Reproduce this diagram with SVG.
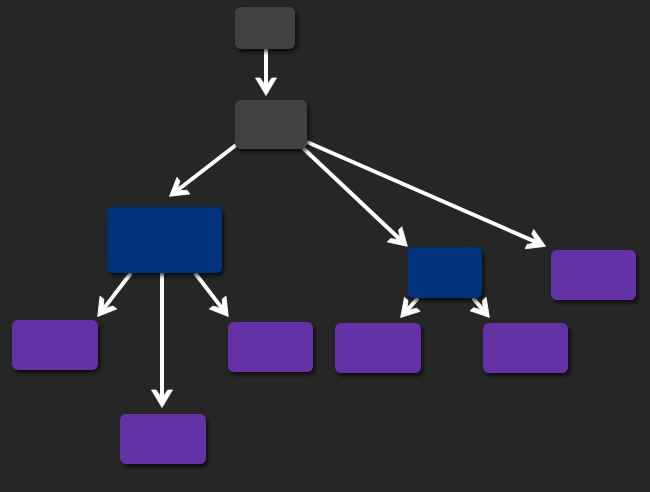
<svg xmlns="http://www.w3.org/2000/svg" width="650" height="492" viewBox="0 0 650 492">
<defs>
<style>
.n{stroke:none;filter:url(#sh)}
.g{fill:#424242}
.b{fill:#00337d}
.p{fill:#6430a6}
.e{stroke:#ffffff;stroke-width:4;fill:none;marker-end:url(#ah)}
</style>
<filter id="sh" x="-20%" y="-20%" width="150%" height="160%">
<feDropShadow dx="2" dy="3" stdDeviation="2" flood-color="#000" flood-opacity="0.7"/>
</filter>
<marker id="ah" markerUnits="userSpaceOnUse" markerWidth="20" markerHeight="20" refX="0" refY="0" orient="auto" overflow="visible">
<path d="M9.5,0 L-8,-10.5 L-8,-5.8 L0.5,0 L-8,5.8 L-8,10.5 Z" fill="#ffffff" stroke="#ffffff" stroke-width="0.8" stroke-linejoin="round"/>
</marker>
</defs>
<rect width="650" height="492" fill="#262626"/>
<g id="connectors">
<line class="e" x1="266" y1="49" x2="266" y2="86"/>
<line class="e" x1="236" y1="145" x2="177.1" y2="190.5"/>
<line class="e" x1="303" y1="148" x2="400.4" y2="239.8"/>
<line class="e" x1="307" y1="142" x2="536.8" y2="242.4"/>
<line class="e" x1="131" y1="273" x2="103.5" y2="308.9"/>
<line class="e" x1="162" y1="273" x2="162" y2="398"/>
<line class="e" x1="195" y1="273" x2="222.5" y2="308.9"/>
<line class="e" x1="418" y1="298" x2="407" y2="310.3"/>
<line class="e" x1="473" y1="298" x2="483.2" y2="310.1"/>
</g>
<g id="n1"><rect class="n g" x="235" y="7" width="60" height="42" rx="6"/></g>
<g id="n2"><rect class="n g" x="235" y="100" width="72" height="49" rx="6"/></g>
<g id="n3"><rect class="n b" x="107" y="207" width="115" height="66" rx="6"/></g>
<g id="n4"><rect class="n b" x="408" y="247" width="74" height="51" rx="6"/></g>
<g id="n5"><rect class="n p" x="551" y="250" width="85" height="50" rx="6"/></g>
<g id="n6"><rect class="n p" x="12" y="320" width="86" height="50" rx="6"/></g>
<g id="n7"><rect class="n p" x="228" y="322" width="85" height="50" rx="6"/></g>
<g id="n8"><rect class="n p" x="120" y="414" width="86" height="50" rx="6"/></g>
<g id="n9"><rect class="n p" x="335" y="323" width="86" height="50" rx="6"/></g>
<g id="n10"><rect class="n p" x="483" y="323" width="85" height="50" rx="6"/></g>
</svg>
